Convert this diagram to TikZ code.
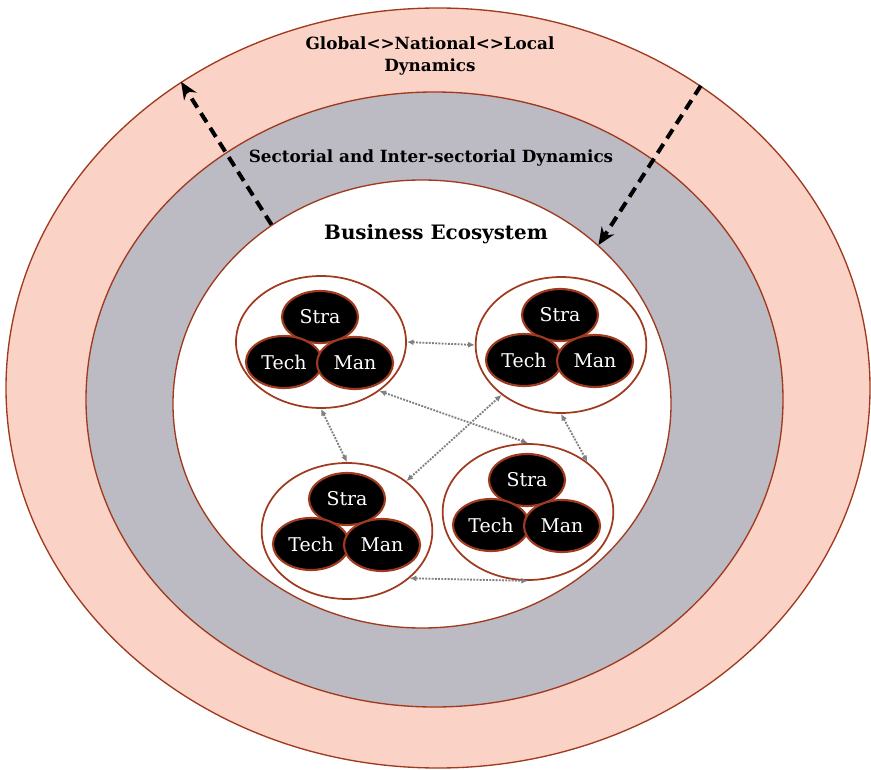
\documentclass[tikz,border=0pt]{standalone}
\usepackage{fontspec}
\setmainfont{DejaVu Serif}
\usetikzlibrary{shapes.geometric,arrows.meta}
\definecolor{ringred}{RGB}{250,210,198}
\definecolor{ringgray}{RGB}{188,187,196}
\definecolor{rim}{RGB}{160,58,30}

\begin{document}
\begin{tikzpicture}[x=0.75pt,y=-0.75pt,line join=round,
	ring/.style={ellipse,draw=rim,line width=1pt,inner sep=0pt},
	firm/.style={ellipse,draw=rim,line width=1.3pt,fill=white,inner sep=0pt,minimum width=128pt,minimum height=102pt},
	core/.style={ellipse,draw=rim,line width=1.6pt,fill=black,text=white,inner sep=0pt,minimum width=57pt,minimum height=39pt,font=\fontsize{14.2}{14}\selectfont},
	title/.style={font=\bfseries\fontsize{12.6}{16}\selectfont,align=center},
	link/.style={{Latex[length=5pt,width=4.5pt]}-{Latex[length=5pt,width=4.5pt]},gray,densely dotted,line width=1.4pt},
	flow/.style={-{Stealth[length=13pt,width=11pt]},line width=3pt,dash pattern=on 8pt off 5pt}]
	\useasboundingbox (0,0) rectangle (871,770);
	% rings
	\node[ring,fill=ringred,minimum width=648pt,minimum height=570pt] (outer) at (438,388) {};
	\node[ring,fill=ringgray,minimum width=522.75pt,minimum height=461.25pt] (middle) at (434.5,399.5) {};
	\node[ring,fill=white,minimum width=373.5pt,minimum height=336pt] (inner) at (422,404) {};
	\node[title] (glob) at (430,56) {Global<>National<>Local\\Dynamics};
	\node[title] (sect) at (431,158) {Sectorial and Inter-sectorial Dynamics};
	\node[title,font=\bfseries\fontsize{14.9}{16}\selectfont] (eco) at (436,234) {Business Ecosystem};
	% firms
	\node[firm,minimum width=127.5pt,minimum height=99pt] (tl) at (321,342) {};
	\node[firm] (tr) at (561,345) {};
	\node[firm] (bl) at (347,531) {};
	\node[firm] (br) at (528,512) {};
	\foreach \n/\sx/\sy in {tl/320/317,tr/560/315,bl/347/499,br/527/480}{
		\node[core] (\n-s) at (\sx,\sy) {Stra};
		\node[core] (\n-t) at ({\sx-36},{\sy+45}) {Tech};
		\node[core] (\n-m) at ({\sx+35},{\sy+46}) {Man};
	}
	% links
	\draw[link] (tl.east) -- (tr.west);
	\draw[link] (tl.-40) -- (br.north);
	\draw[link] (bl.40) -- (tr.220);
	\draw[link] (tl.south) -- (bl.north);
	\draw[link] (tr.south) -- (br.40);
	\draw[link] (bl.-37) -- (br.south);
	\draw[flow] (inner.130) -- (outer.130);
	\draw[flow] (outer.49) -- (inner.42);
\end{tikzpicture}
\end{document}
